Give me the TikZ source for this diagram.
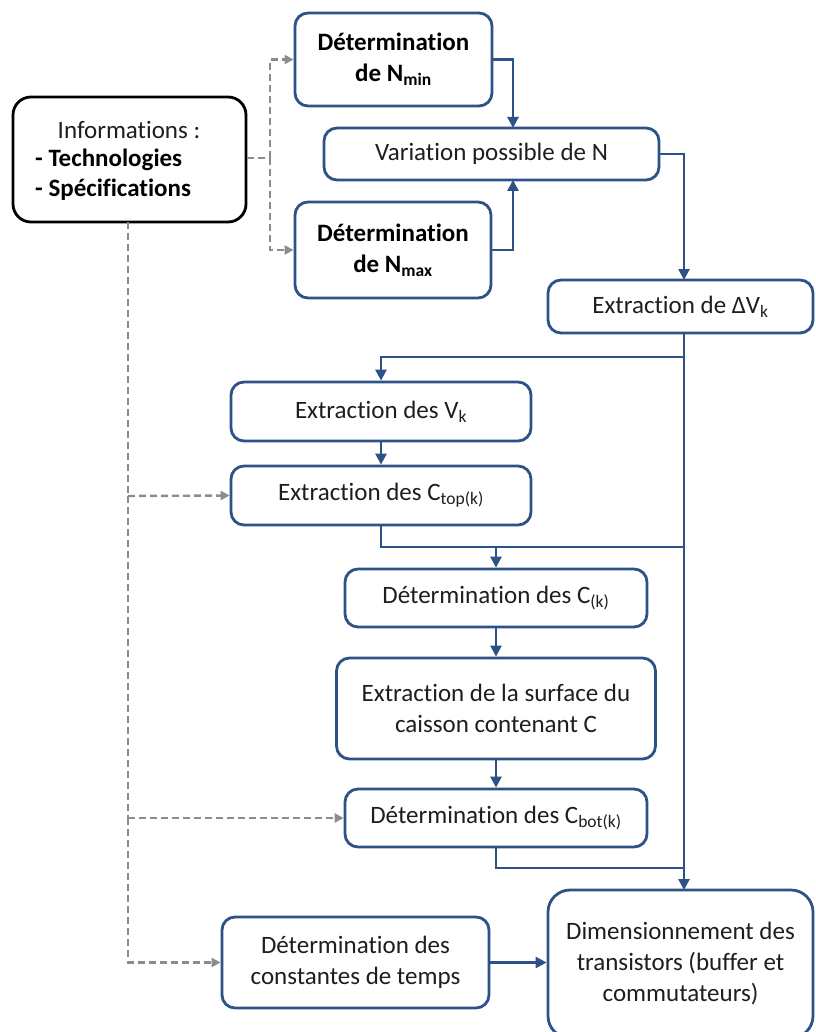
\documentclass[tikz,border=0pt]{standalone}
\usepackage{fontspec}
\setmainfont{Carlito}[Ligatures=NoCommon]
\usetikzlibrary{arrows.meta,calc}
\definecolor{boxblue}{RGB}{44,82,136}
\definecolor{dashgray}{RGB}{140,140,140}
\definecolor{txt}{RGB}{30,30,30}
\begin{document}
\begin{tikzpicture}[x=1pt,y=-1pt,
  font=\fontsize{25}{31}\selectfont,
  bbox/.style={draw=boxblue,line width=2.8pt,rounded corners=13pt,fill=white,text=txt,align=center,inner sep=0pt},
  ibox/.style={draw=black,line width=2.8pt,rounded corners=18pt,fill=white},
  arr/.style={draw=boxblue,line width=2.6pt,-{Triangle[length=11pt,width=11pt]}},
  ln/.style={draw=boxblue,line width=2.6pt},
  darr/.style={draw=dashgray,line width=2.4pt,dash pattern=on 7pt off 4pt,-{Triangle[length=9pt,width=9pt]}},
  dln/.style={draw=dashgray,line width=2.4pt,dash pattern=on 7pt off 4pt}]
\useasboundingbox (0,0) rectangle (815,1032);
% boxes
\node[ibox,minimum width=233pt,minimum height=125pt] (info) at (129.5,159.5) {};
\node[text=txt] (infot) at (129,130) {Informations :};
\node[anchor=west,inner sep=0pt] (tech) at (35,160) {\textbf{- Technologies}};
\node[anchor=west,inner sep=0pt] (spec) at (35,190) {\textbf{- Spécifications}};
\node[bbox,minimum width=197pt,minimum height=93pt,text=black] (nmin) at (393.5,59.5) {\textbf{Détermination}\\\textbf{de N\textsubscript{min}}};
\node[bbox,minimum width=335pt,minimum height=52pt] (var) at (491.5,154) {Variation possible de N};
\node[bbox,minimum width=196pt,minimum height=96pt,text=black] (nmax) at (393,250) {\textbf{Détermination}\\\textbf{de N\textsubscript{max}}};
\node[bbox,minimum width=265pt,minimum height=53pt] (dv) at (680.5,306.5) {Extraction de ΔV\textsubscript{k}};
\node[bbox,minimum width=300pt,minimum height=59pt] (vk) at (381,411.5) {Extraction des V\textsubscript{k}};
\node[bbox,minimum width=300pt,minimum height=59pt] (ctop) at (381,495.5) {Extraction des C\textsubscript{top(k)}};
\node[bbox,minimum width=302pt,minimum height=58pt] (ck) at (496,598) {Détermination des C\textsubscript{(k)}};
\node[bbox,minimum width=319pt,minimum height=101pt] (surf) at (496,708.5) {Extraction de la surface du\\caisson contenant C};
\node[bbox,minimum width=302pt,minimum height=58pt] (cbot) at (496,818) {Détermination des C\textsubscript{bot(k)}};
\node[bbox,minimum width=267pt,minimum height=91pt] (temps) at (355.5,962.5) {Détermination des\\constantes de temps};
\node[bbox,minimum width=265pt,minimum height=148pt,rounded corners=22pt] (dim) at (680.5,964) {Dimensionnement des\\transistors (buffer et\\commutateurs)};
% coordinates
\coordinate (j1) at (513,128);
\coordinate (j2) at (513,180);
\coordinate (j3) at (684,280);
\coordinate (j4) at (684,333);
\coordinate (j5) at (684,357);
\coordinate (j6) at (684,547);
\coordinate (j7) at (496,547);
\coordinate (j8) at (684,868);
\coordinate (j9) at (684,890);
\coordinate (d0) at (270,158);
\coordinate (d1) at (128,222);
\coordinate (d2) at (128,496);
\coordinate (d3) at (128,818);
\coordinate (d4) at (128,963);
% blue connectors
\draw[arr] (nmin.east) -| (j1);
\draw[arr] (nmax.east) -| (j2);
\draw[arr] (var.east) -| (j3);
\draw[arr] (j4) -- (j9);
\draw[arr] (j5) -| (vk.north);
\draw[arr] (vk.south) -- (ctop.north);
\draw[ln] (ctop.south) |- (j6);
\draw[arr] (j7) -- (ck.north);
\draw[arr] (ck.south) -- (surf.north);
\draw[arr] (surf.south) -- (cbot.north);
\draw[ln] (cbot.south) |- (j8);
\draw[arr] (temps.east) -- (dim.west |- temps.east);
% dashed connectors
\draw[dln] (info.east |- d0) -- (d0);
\draw[darr] (d0) |- (nmin.west);
\draw[darr] (d0) |- (nmax.west);
\draw[dln] (d1) -- (d2);
\draw[darr] (d2) -- (ctop.west);
\draw[dln] (d2) -- (d3);
\draw[darr] (d3) -- (cbot.west);
\draw[darr] (d3) |- (temps.west);
\end{tikzpicture}
\end{document}
